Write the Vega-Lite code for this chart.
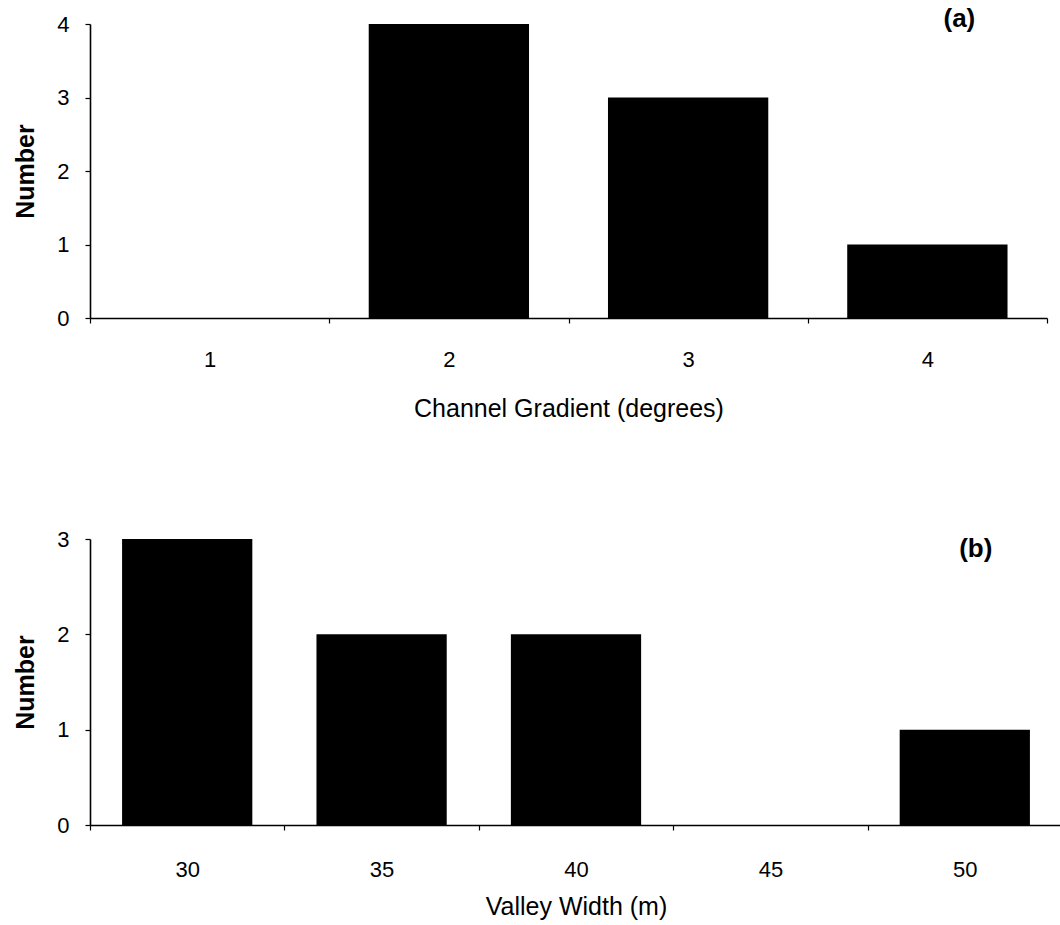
{
  "$schema": "https://vega.github.io/schema/vega-lite/v6.json",
  "autosize": {"type": "pad"},
  "padding": {"left": 13, "top": 6, "right": 0, "bottom": 4},
  "background": "white",
  "config": {
    "font": "Liberation Sans",
    "view": {"stroke": null},
    "concat": {"spacing": 107},
    "axis": {
      "grid": false,
      "domainColor": "black",
      "domainWidth": 1.6,
      "tickColor": "black",
      "tickWidth": 1.2,
      "tickSize": 5,
      "labelColor": "black",
      "titleColor": "black",
      "labelFont": "Liberation Sans",
      "titleFont": "Liberation Sans",
      "labelFontSize": 22,
      "titleFontSize": 25
    }
  },
  "vconcat": [
    {
      "width": 957,
      "height": 294,
      "data": {"values": [
        {"gradient": "1", "number": 0},
        {"gradient": "2", "number": 4},
        {"gradient": "3", "number": 3},
        {"gradient": "4", "number": 1}
      ]},
      "layer": [
        {
          "mark": {"type": "bar", "color": "black", "width": {"band": 0.67}},
          "encoding": {
            "x": {
              "field": "gradient", "type": "ordinal",
              "scale": {"paddingInner": 0, "paddingOuter": 0},
              "axis": {"labelAngle": 0, "tickBand": "extent", "labelPadding": 26, "titlePadding": 26, "title": "Channel Gradient (degrees)", "titleFontWeight": "normal"}
            },
            "y": {
              "field": "number", "type": "quantitative",
              "scale": {"domain": [0, 4]},
              "axis": {"values": [0, 1, 2, 3, 4], "format": "d", "title": "Number", "titleFontWeight": "bold", "labelPadding": 16, "titlePadding": 18}
            }
          }
        },
        {
          "data": {"values": [{"label": "(a)"}]},
          "mark": {"type": "text", "fontWeight": "bold", "fontSize": 26, "dx": 32, "dy": -5, "color": "black"},
          "encoding": {
            "x": {"datum": "4"},
            "y": {"datum": 4},
            "text": {"field": "label"}
          }
        }
      ]
    },
    {
      "width": 972,
      "height": 286,
      "data": {"values": [
        {"width": "30", "number": 3},
        {"width": "35", "number": 2},
        {"width": "40", "number": 2},
        {"width": "45", "number": 0},
        {"width": "50", "number": 1}
      ]},
      "layer": [
        {
          "mark": {"type": "bar", "color": "black", "width": {"band": 0.67}},
          "encoding": {
            "x": {
              "field": "width", "type": "ordinal",
              "scale": {"paddingInner": 0, "paddingOuter": 0},
              "axis": {"labelAngle": 0, "tickBand": "extent", "labelPadding": 29, "titlePadding": 14, "title": "Valley Width (m)", "titleFontWeight": "normal"}
            },
            "y": {
              "field": "number", "type": "quantitative",
              "scale": {"domain": [0, 3]},
              "axis": {"values": [0, 1, 2, 3], "format": "d", "title": "Number", "titleFontWeight": "bold", "labelPadding": 16, "titlePadding": 18}
            }
          }
        },
        {
          "data": {"values": [{"label": "(b)"}]},
          "mark": {"type": "text", "fontWeight": "bold", "fontSize": 26, "dx": 11, "dy": 10, "color": "black"},
          "encoding": {
            "x": {"datum": "50"},
            "y": {"datum": 3},
            "text": {"field": "label"}
          }
        }
      ]
    }
  ]
}
